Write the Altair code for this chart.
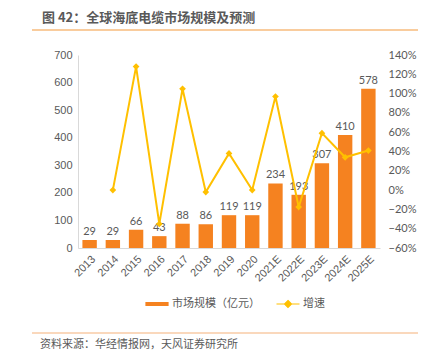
import altair as alt
import pandas as pd

years = ["2013", "2014", "2015", "2016", "2017", "2018", "2019", "2020",
         "2021E", "2022E", "2023E", "2024E", "2025E"]
market = [29, 29, 66, 43, 88, 86, 119, 119, 234, 193, 307, 410, 578]
growth = [None, 0.00, 1.28, -0.35, 1.05, -0.02, 0.38, 0.00, 0.97, -0.175, 0.59, 0.34, 0.41]
left_ticks = [0, 100, 200, 300, 400, 500, 600, 700]
right_ticks = [-0.6, -0.4, -0.2, 0.0, 0.2, 0.4, 0.6, 0.8, 1.0, 1.2, 1.4]
series = ["市场规模（亿元）", "增速"]
title_text = "图 42：全球海底电缆市场规模及预测"
source_text = "资料来源：华经情报网，天风证券研究所"

ORANGE = "#F58220"
GOLD = "#FFC000"
GREY = "#595959"
CJK = "Noto Sans CJK SC"

df = pd.DataFrame({"year": years, "market": market, "growth": growth})

x_enc = alt.X(
    "year:N", sort=years,
    scale=alt.Scale(paddingInner=0.38, paddingOuter=0.19),
    axis=alt.Axis(title=None, labelAngle=-45, labelFont="Liberation Sans",
                  labelFontSize=11, labelColor=GREY, ticks=False,
                  domainColor="#D9D9D9", labelPadding=5),
)
y_left = alt.Y(
    "market:Q", scale=alt.Scale(domain=[0, 700]),
    axis=alt.Axis(title=None, values=left_ticks, grid=False, ticks=False,
                  domainColor="#D9D9D9", labelFont="Liberation Sans",
                  labelFontSize=11, labelColor=GREY, labelPadding=6),
)
y_right = alt.Y(
    "growth:Q", scale=alt.Scale(domain=[-0.6, 1.4]),
    axis=alt.Axis(title=None, orient="right", values=right_ticks, format=".0%",
                  grid=False, ticks=False, domain=False, labelFont="Lato",
                  labelFontSize=11, labelColor=GREY, labelPadding=8),
)

base = alt.Chart(df)
bars = base.mark_bar(color=ORANGE).encode(x=x_enc, y=y_left)
labels = base.mark_text(baseline="bottom", dy=-3, font="Lato", fontSize=11,
                        color=GREY).encode(x=x_enc, y=y_left, text="market:Q")

legend = alt.Legend(
    title=None, orient="none", legendX=68, legendY=238, direction="horizontal",
    labelFont=CJK, labelFontSize=11, labelColor=GREY, symbolSize=400,
    symbolStrokeWidth=1.2, symbolOpacity=1, columnPadding=14, labelOffset=4,
    gridAlign="none",
)
dummy = alt.Chart(alt.Data(values=[{"s": series[0], "market": None},
                                   {"s": series[1], "market": None}])).mark_point(
    filled=True, opacity=1).encode(
    y=y_left,
    fill=alt.Fill("s:N", scale=alt.Scale(domain=series, range=[ORANGE, GOLD]), legend=legend),
    stroke=alt.Stroke("s:N", scale=alt.Scale(domain=series, range=[ORANGE, GOLD]), legend=legend),
    shape=alt.Shape("s:N", scale=alt.Scale(domain=series, range=[
        "M-1.1,-0.15H1.1V0.15H-1.1Z",
        "M-1.15,0H1.15M0,-0.35L0.35,0L0,0.35L-0.35,0Z"]), legend=legend),
)

line = base.mark_line(color=GOLD, strokeWidth=2).encode(x=x_enc, y=y_right)
points = base.mark_point(shape="diamond", filled=True, size=45, color=GOLD,
                         opacity=1).encode(x=x_enc, y=y_right)

deco = alt.Chart(alt.Data(values=[{"k": 1}]))
top_rule = deco.mark_rule(color="#F39A3C", strokeWidth=1.2).encode(
    x=alt.value(-46), x2=alt.value(340), y=alt.value(-25))
bottom_rule = deco.mark_rule(color="#F5B27A", strokeWidth=1.2).encode(
    x=alt.value(-46), x2=alt.value(340), y=alt.value(278))
title = alt.Chart(alt.Data(values=[{"t": title_text}])).mark_text(
    align="left", baseline="middle", font=CJK, fontSize=13, fontWeight="bold",
    color=GREY).encode(x=alt.value(-36), y=alt.value(-37), text="t:N")
source = alt.Chart(alt.Data(values=[{"t": source_text}])).mark_text(
    align="left", baseline="middle", font=CJK, fontSize=11, color=GREY).encode(
    x=alt.value(-38), y=alt.value(290), text="t:N")

left = alt.layer(bars, labels, dummy, top_rule, bottom_rule, title, source)
right = alt.layer(line, points)

chart = alt.layer(left, right).resolve_scale(y="independent").properties(
    width=302, height=193,
    autosize=alt.AutoSizeParams(type="none"),
    padding={"left": 70, "top": 47, "right": 40, "bottom": 107},
).configure_view(stroke=None)

chart.save("out.html", embed_options={"renderer": "svg", "actions": False})
